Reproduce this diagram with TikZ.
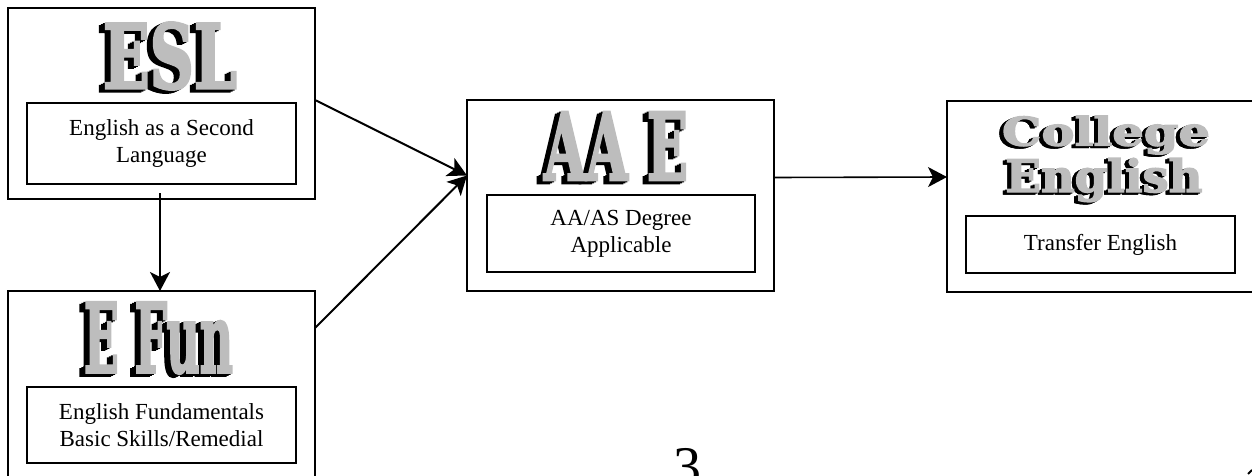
\documentclass[tikz,border=0pt]{standalone}
\usepackage{graphicx}
\usepackage{fontspec}
\setmainfont{Liberation Serif}
\newfontfamily\wordfont[BoldFeatures={FakeBold=3}]{DejaVu Serif}
\usetikzlibrary{arrows.meta}
\definecolor{artface}{HTML}{BDBDBD}
\newcommand{\artfont}[3]{\resizebox{#1pt}{#2pt}{\wordfont\bfseries #3}}
% name, x, y, width, height, depth of the extrusion, word
\newcommand{\artword}[7]{
  \foreach \k in {#6,4,2} \node[art,text=black] (#1\k) at (#2-\k,#3-\k/2) {\artfont{#4}{#5}{#7}};
  \node[art,text=artface] (#1) at (#2,#3) {\artfont{#4}{#5}{#7}};
}

\begin{document}
\begin{tikzpicture}[x=1pt,y=1pt,
  outer/.style={draw=black,line width=2pt,inner sep=0pt,outer sep=0pt},
  inner/.style={draw=black,line width=1.8pt,align=center,inner sep=0pt,outer sep=0pt,
    font=\fontsize{23}{27}\selectfont},
  art/.style={inner sep=0pt},
  link/.style={-{Stealth[length=19pt,width=20pt,inset=5pt]},draw=black,line width=2pt}]
  \useasboundingbox (0,0) rectangle (1252,475);
  \clip (0,0) rectangle (1252,475);
  \node[outer,minimum width=307pt,minimum height=191pt] (esl) at (161.5,371.5) {};
  \node[outer,minimum width=307pt,minimum height=208pt] (efun) at (161.5,80) {};
  \node[outer,minimum width=307pt,minimum height=191pt] (aae) at (620.5,279.5) {};
  \node[outer,minimum width=313pt,minimum height=191pt] (college) at (1103.5,278.5) {};
  \node[inner,minimum width=269pt,minimum height=81pt] (esltext) at (161.5,331.5) {English as a Second\\Language};
  \node[inner,minimum width=269pt,minimum height=76pt] (efuntext) at (161.5,50) {English Fundamentals\\Basic Skills/Remedial};
  \node[inner,minimum width=268pt,minimum height=77pt] (aaetext) at (621,241.5) {AA/AS Degree\\Applicable};
  \node[inner,minimum width=269pt,minimum height=57pt] (collegetext) at (1100.5,230.5) {Transfer English};
  \artword{eslword}{170}{419}{134}{66}{6}{ESL}
  \artword{efunword}{158.5}{137}{149}{70}{6}{E Fun}
  \artword{aaeword}{616}{329}{144}{68}{6}{AA E}
  \artword{collegeword}{1106}{340}{208}{30}{4}{College}
  \artword{englishword}{1104}{295}{197}{34}{4}{English}
  \coordinate (aaein) at ([yshift=20pt]aae.west);
  \draw[link] ([yshift=3.5pt]esl.east) -- (aaein);
  \draw[link] ([yshift=67pt]efun.east) -- (aaein);
  \draw[link,line width=1.6pt] ([xshift=-1.5pt,yshift=6pt]esl.south) -- ([xshift=-1.5pt]efun.north);
  \draw[link,line width=1.6pt] ([yshift=18pt]aae.east) -- ([yshift=19.5pt]college.west);
  \node[anchor=base,inner sep=0pt,font=\fontsize{56}{56}\selectfont] (pagenum) at (687,-10) {3};
  \coordinate (tickfrom) at (1248,1);
  \coordinate (tickto) at (1252,5);
  \draw[line width=2pt] (tickfrom) -- (tickto);
\end{tikzpicture}
\end{document}
